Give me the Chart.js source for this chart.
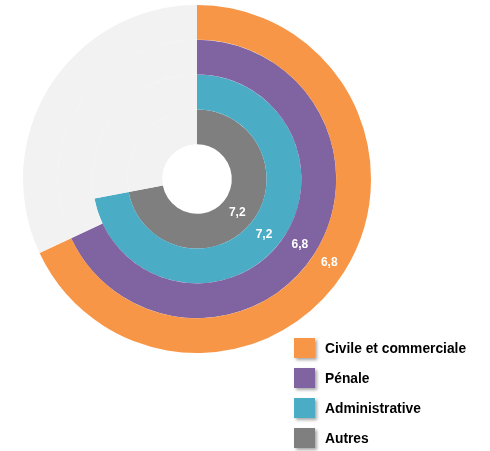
<!DOCTYPE html>
<html>
<head>
<meta charset="utf-8">
<script src="https://cdn.jsdelivr.net/npm/chart.js@4/dist/chart.umd.min.js"></script>
<style>
  html, body { margin: 0; padding: 0; background: #ffffff; }
  #wrap { width: 490px; height: 451px; position: relative; }
</style>
</head>
<body>
<div id="wrap"><canvas id="c" width="490" height="451"></canvas></div>
<script>
// Categories, outermost ring first
const categories = ['Civile et commerciale', 'Pénale', 'Administrative', 'Autres'];
// Score of each category, on a scale out to maxScore
const scores = [6.8, 6.8, 7.2, 7.2];
const maxScore = 10;
const ringColors = ['#F79646', '#8064A2', '#4BACC6', '#7F7F7F'];
const trackColor = '#F2F2F2';

const datasets = categories.map((name, i) => ({
  label: name,
  data: [scores[i], maxScore - scores[i]],
  backgroundColor: [ringColors[i], trackColor],
  borderWidth: 0,
  hoverOffset: 0
}));

const fmt = v => v.toFixed(1).replace('.', ',');

// White value labels centred on each coloured arc
const valueLabels = {
  id: 'valueLabels',
  afterDatasetsDraw(chart) {
    const ctx = chart.ctx;
    ctx.save();
    ctx.font = 'bold 12px "Liberation Sans", Arial, sans-serif';
    ctx.fillStyle = '#ffffff';
    ctx.textAlign = 'center';
    ctx.textBaseline = 'middle';
    chart.data.datasets.forEach((ds, i) => {
      const arc = chart.getDatasetMeta(i).data[0];
      const p = arc.tooltipPosition();
      ctx.fillText(fmt(ds.data[0]), p.x, p.y);
    });
    ctx.restore();
  }
};

// Legend in the lower right corner, squares with a soft shadow
const cornerLegend = {
  id: 'cornerLegend',
  afterDraw(chart) {
    const ctx = chart.ctx;
    const x0 = 294, y0 = 338, step = 30, sq = 20;
    chart.data.datasets.forEach((ds, i) => {
      const y = y0 + i * step;
      ctx.save();
      ctx.shadowColor = 'rgba(0,0,0,0.35)';
      ctx.shadowOffsetX = 2;
      ctx.shadowOffsetY = 2;
      ctx.shadowBlur = 3;
      ctx.fillStyle = ds.backgroundColor[0];
      ctx.fillRect(x0, y, sq + 1, sq);
      ctx.restore();
      ctx.save();
      ctx.font = 'bold 13.8px "Liberation Sans", Arial, sans-serif';
      ctx.fillStyle = '#000000';
      ctx.textBaseline = 'middle';
      ctx.fillText(ds.label, x0 + 31, y + sq / 2 + 1);
      ctx.restore();
    });
  }
};

new Chart(document.getElementById('c'), {
  type: 'doughnut',
  data: { labels: ['Score', 'Reste'], datasets },
  options: {
    responsive: false,
    animation: false,
    cutout: '20%',
    layout: { padding: { left: 23, right: 119, top: 5, bottom: 98 } },
    plugins: {
      legend: { display: false },
      tooltip: { enabled: false }
    },
    events: []
  },
  plugins: [valueLabels, cornerLegend]
});
</script>
</body>
</html>
